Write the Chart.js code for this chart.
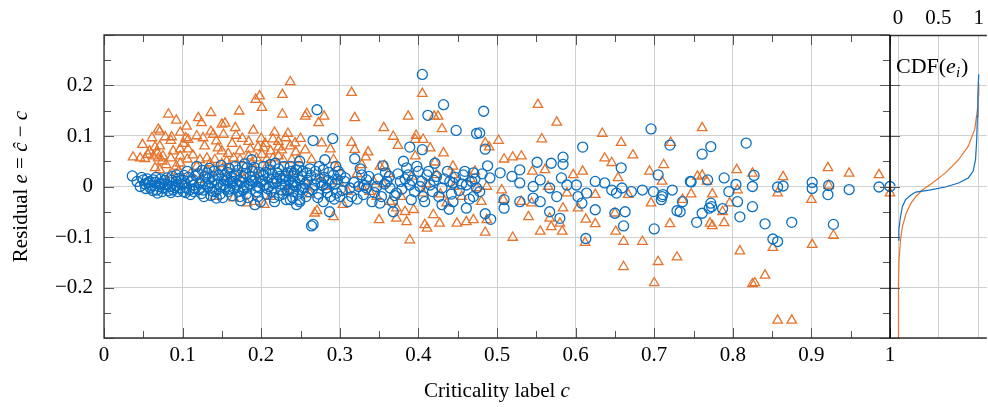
<!DOCTYPE html>
<html><head><meta charset="utf-8">
<script src="https://cdn.jsdelivr.net/npm/chart.js@4.4.1/dist/chart.umd.min.js"></script>
<style>
html,body{margin:0;padding:0;background:#fff;}
#wrap{position:relative;width:988px;height:407px;overflow:hidden;}
canvas{position:absolute;left:0;top:0;}
</style></head><body>
<div id="wrap"><canvas id="main" width="988" height="407"></canvas><canvas id="cdf" width="988" height="407"></canvas></div>
<script>
// ---- data: [criticality label c, residual e] ----
const circlePoints = [
[0.761,0.064],[0.772,0.079],[0.817,0.086],[0.747,0.009],[0.768,0.013],[0.789,0.017],[0.804,0.004],[0.795,-0.010],[0.806,-0.030],[0.825,0.000],[0.827,0.022],[0.825,-0.040],[0.809,-0.060],[0.736,-0.030],[0.733,-0.050],[0.761,-0.053],[0.772,-0.033],[0.773,-0.040],[0.770,-0.043],[0.787,-0.044],[0.754,-0.071],[0.841,-0.074],[0.875,-0.071],[0.851,-0.104],[0.857,-0.109],[0.857,-0.001],[0.864,0.001],[0.901,0.008],[0.901,-0.004],[0.922,0.002],[0.921,-0.016],[0.948,-0.006],[0.928,-0.075],[0.986,-0.001],[1.0,0.0],
[0.700,-0.084],[0.661,-0.078],[0.663,-0.050],[0.729,-0.048],[0.709,-0.026],
[0.483,0.149],[0.478,0.106],[0.485,0.074],[0.609,0.078],[0.696,0.114],[0.720,0.082],[0.551,0.048],[0.569,0.046],[0.584,0.058],[0.584,0.044],[0.658,0.037],[0.705,0.023],[0.488,0.041],[0.491,0.017],[0.504,0.027],[0.519,0.020],[0.529,0.033],[0.529,0.007],[0.546,0.000],[0.555,0.013],[0.567,-0.003],[0.582,0.017],[0.589,0.003],[0.601,0.003],[0.614,-0.013],[0.625,0.010],[0.637,0.007],[0.646,-0.007],[0.652,-0.013],[0.659,-0.003],[0.671,-0.010],[0.685,-0.007],[0.699,-0.010],[0.710,-0.020],[0.723,-0.007],[0.746,0.010],[0.625,-0.046],[0.650,-0.053],[0.613,-0.103],[0.580,-0.063],[0.567,-0.050],[0.509,-0.043],[0.485,-0.054],[0.492,-0.065],[0.509,-0.026],[0.529,-0.030],[0.546,-0.023],[0.555,-0.030],[0.576,-0.020],[0.603,-0.020],[0.608,-0.033],[0.711,-0.016],
[0.405,0.222],[0.432,0.162],[0.271,0.152],[0.412,0.141],[0.448,0.111],[0.474,0.105],[0.266,0.091],[0.291,0.095],[0.389,0.078],[0.405,0.073],[0.319,0.055],[0.249,0.050],[0.281,0.053],[0.355,0.041],[0.381,0.050],[0.421,0.046],[0.237,0.040],[0.241,0.020],[0.258,0.027],[0.279,0.033],[0.292,0.023],[0.307,0.017],[0.328,0.023],[0.334,0.013],[0.358,0.027],[0.360,0.010],[0.377,0.010],[0.387,0.023],[0.385,0.037],[0.400,0.030],[0.411,0.023],[0.423,0.020],[0.440,0.010],[0.457,0.023],[0.470,0.027],[0.241,0.003],[0.254,-0.003],[0.268,0.003],[0.283,-0.003],[0.296,-0.013],[0.313,-0.003],[0.324,0.000],[0.334,-0.003],[0.347,0.000],[0.364,-0.003],[0.372,-0.013],[0.389,0.003],[0.402,0.000],[0.415,0.003],[0.430,-0.003],[0.444,0.007],[0.461,0.003],[0.474,-0.003],[0.237,-0.026],[0.249,-0.030],[0.279,-0.030],[0.300,-0.020],[0.315,-0.020],[0.330,-0.016],[0.341,-0.030],[0.351,-0.033],[0.370,-0.018],[0.391,-0.026],[0.406,-0.020],[0.430,-0.036],[0.444,-0.030],[0.470,-0.020],[0.287,-0.050],[0.368,-0.050],[0.439,-0.045],[0.461,-0.043],[0.266,-0.075],[0.264,-0.078],
[0.036,0.021],[0.046,0.000],[0.050,0.013],[0.056,0.007],[0.063,0.013],[0.067,-0.007],[0.068,-0.013],[0.073,0.007],[0.080,0.017],[0.084,0.000],[0.092,0.010],[0.097,-0.003],[0.103,0.007],[0.109,-0.007],[0.092,0.023],[0.118,0.040],[0.122,0.007],[0.128,0.020],[0.135,-0.003],[0.141,0.013],[0.143,-0.023],[0.150,0.033],[0.152,0.003],[0.158,-0.010],[0.162,0.020],[0.167,0.040],[0.169,0.003],[0.173,-0.020],[0.177,0.020],[0.182,0.037],[0.188,0.053],[0.190,0.010],[0.194,-0.010],[0.192,-0.036],[0.203,0.023],[0.205,0.003],[0.211,0.033],[0.218,0.046],[0.220,0.010],[0.226,-0.007],[0.232,-0.026],[0.234,0.027],[0.245,0.033],[0.245,-0.036],[0.105,-0.003],[0.114,0.003],[0.126,-0.007],[0.139,-0.010],[0.148,0.000],[0.156,0.013],[0.165,-0.003],[0.182,0.000],[0.198,-0.003],[0.213,-0.010],[0.224,0.020],[0.239,0.007],[0.241,-0.010],[0.249,0.013],[0.052,0.005],[0.059,-0.003],[0.075,-0.003],[0.088,-0.007],[0.101,-0.010],[0.114,-0.010],[0.131,0.027],[0.137,0.007],[0.154,0.023],[0.177,-0.007],[0.186,0.020],[0.209,0.017],[0.230,0.003],[0.249,-0.026],
[0.055,0.015],[0.060,0.002],[0.065,0.008],[0.070,0.000],[0.072,0.015],[0.078,0.004],[0.082,-0.008],[0.086,0.012],[0.090,-0.002],[0.095,0.016],[0.099,0.004],[0.104,-0.012],[0.107,0.018],[0.111,0.010],[0.116,-0.004],[0.120,0.025],[0.124,-0.014],[0.129,0.005],[0.133,0.015],[0.136,-0.018],[0.140,0.030],[0.145,0.005],[0.148,-0.015],[0.153,0.012],[0.157,0.028],[0.160,-0.005],[0.164,0.010],[0.168,0.025],[0.171,-0.010],[0.175,0.008],[0.179,0.045],[0.181,-0.015],[0.185,0.005],[0.189,0.030],[0.193,0.015],[0.196,-0.020],[0.200,0.010],[0.203,0.040],[0.207,-0.015],[0.210,0.000],[0.214,0.025],[0.216,-0.022],[0.219,0.015],[0.222,0.035],[0.225,0.005],[0.228,-0.015],[0.231,0.020],[0.236,-0.005],[0.238,0.030],[0.243,0.010],[0.247,-0.015],[0.252,0.020],[0.256,0.005],[0.260,-0.010],[0.262,0.035],[0.270,0.015],[0.273,-0.015],[0.276,0.008],[0.285,0.012],[0.288,-0.020],[0.294,0.005],[0.298,0.030],[0.303,-0.008],[0.306,0.010],[0.310,-0.030],[0.318,0.008],[0.322,-0.025],[0.326,0.035],[0.331,0.002],[0.337,0.020],[0.344,-0.012],[0.349,0.015],[0.353,-0.020],[0.357,0.005],[0.363,0.020],[0.367,-0.030],[0.374,0.025],[0.379,-0.005],[0.383,0.015],[0.392,0.012],[0.395,-0.010],[0.398,0.040],[0.404,0.010],[0.408,-0.030],[0.413,0.030],[0.418,-0.010],[0.420,0.012],[0.426,-0.020],[0.433,0.015],[0.437,0.030],[0.442,-0.015],[0.447,0.018],[0.452,-0.008],[0.455,0.005],[0.459,0.030],[0.465,-0.025],[0.468,0.010],[0.472,0.015],[0.478,-0.010],[0.481,0.025],
[0.042,0.010],[0.048,0.018],[0.053,-0.004],[0.058,0.010],[0.062,-0.008],[0.066,0.018],[0.071,0.005],[0.074,-0.010],[0.077,0.012],[0.081,0.003],[0.085,-0.012],[0.087,0.020],[0.091,0.002],[0.094,-0.010],[0.098,0.012],[0.102,0.022],
[0.106,0.030],[0.110,-0.016],[0.113,0.014],[0.117,0.022],[0.121,-0.006],[0.125,0.032],[0.127,-0.020],[0.132,0.000],[0.134,0.036],[0.138,0.020],[0.142,-0.008],[0.146,0.022],[0.149,0.042],[0.151,-0.022],[0.155,0.000],[0.159,0.036],[0.161,0.008],[0.163,-0.018],[0.166,0.022],[0.170,0.032],[0.172,0.012],[0.174,-0.028],[0.176,0.040],[0.178,-0.002],[0.180,0.026],[0.183,-0.022],[0.187,0.012],[0.191,0.038],[0.195,0.000],[0.197,0.028],[0.199,-0.030],[0.202,0.012],[0.206,0.028],[0.208,-0.004],[0.212,0.044],[0.215,0.006],[0.217,-0.030],[0.221,0.026],[0.223,-0.018],[0.227,0.016],[0.229,0.040],[0.233,-0.008],[0.235,0.012],[0.240,-0.022],[0.242,0.026],[0.244,0.000],[0.248,0.040],[0.251,-0.006],[0.253,0.030],[0.257,-0.020],[0.259,0.012],[0.263,0.022],[0.265,-0.006],[0.269,0.030],[0.272,-0.022],[0.274,0.040],[0.278,0.002],[0.280,0.018],[0.284,-0.012],[0.286,0.028],[0.290,0.008],[0.293,-0.025],[0.295,0.040],[0.297,0.014],[0.301,0.024]
];
const trianglePoints = [
[0.761,0.116],[0.755,0.020],[0.761,0.022],[0.767,0.010],[0.747,-0.015],[0.736,-0.026],[0.774,-0.015],[0.787,-0.050],[0.796,-0.033],[0.771,-0.073],[0.774,-0.078],[0.789,-0.072],[0.805,0.033],[0.806,-0.007],[0.825,0.026],[0.864,0.019],[0.857,-0.013],[0.921,0.037],[0.922,0.002],[0.948,0.026],[0.986,0.023],[1.0,-0.013],[0.900,-0.026],[0.851,-0.121],[0.809,-0.128],[0.901,-0.115],[0.928,-0.097],[0.841,-0.176],[0.825,-0.193],[0.828,-0.191],[0.857,-0.265],[0.875,-0.265],[0.729,-0.140],
[0.700,-0.191],[0.705,-0.149],[0.685,-0.109],[0.661,-0.109],[0.661,-0.159],[0.720,-0.074],[0.696,-0.033],
[0.552,0.162],[0.576,0.127],[0.502,0.091],[0.490,0.078],[0.557,0.094],[0.634,0.105],[0.658,0.087],[0.721,0.087],[0.673,0.062],[0.509,0.054],[0.520,0.058],[0.531,0.060],[0.637,0.056],[0.646,0.047],[0.712,0.043],[0.694,0.030],[0.609,0.030],[0.597,0.023],[0.545,0.030],[0.561,0.033],[0.654,0.017],[0.710,0.010],[0.487,0.000],[0.506,-0.007],[0.565,0.000],[0.589,-0.013],[0.625,-0.016],[0.667,-0.016],[0.508,-0.026],[0.531,-0.030],[0.544,-0.033],[0.584,-0.043],[0.603,-0.043],[0.487,-0.066],[0.540,-0.060],[0.567,-0.063],[0.580,-0.073],[0.613,-0.065],[0.625,-0.074],[0.650,-0.053],[0.569,-0.080],[0.583,-0.089],[0.555,-0.089],[0.485,-0.091],[0.520,-0.101],[0.612,-0.111],[0.651,-0.089],
[0.237,0.207],[0.315,0.186],[0.405,0.184],[0.256,0.139],[0.258,0.144],[0.273,0.126],[0.280,0.139],[0.319,0.136],[0.387,0.139],[0.420,0.139],[0.425,0.139],[0.356,0.116],[0.430,0.114],[0.368,0.099],[0.397,0.101],[0.243,0.086],[0.256,0.072],[0.277,0.086],[0.288,0.074],[0.315,0.087],[0.319,0.073],[0.336,0.068],[0.333,0.058],[0.374,0.081],[0.396,0.093],[0.406,0.093],[0.415,0.076],[0.432,0.066],[0.239,0.053],[0.264,0.053],[0.292,0.053],[0.296,0.037],[0.328,0.043],[0.351,0.040],[0.357,0.041],[0.396,0.060],[0.421,0.048],[0.444,0.040],[0.423,0.023],[0.444,0.023],[0.472,0.030],[0.485,0.086],[0.304,-0.036],[0.292,-0.060],[0.268,-0.053],[0.271,-0.048],[0.350,-0.066],[0.372,-0.063],[0.385,-0.070],[0.372,-0.043],[0.383,-0.050],[0.394,-0.046],[0.408,-0.076],[0.411,-0.083],[0.419,-0.056],[0.427,-0.073],[0.449,-0.073],[0.461,-0.070],[0.470,-0.066],[0.389,-0.106],[0.364,-0.030],[0.347,-0.020],[0.436,-0.033],[0.328,0.000],[0.343,0.010],[0.406,-0.013],[0.474,-0.003],[0.283,0.000],
[0.227,0.182],[0.198,0.179],[0.193,0.172],[0.201,0.156],[0.227,0.143],[0.172,0.149],[0.136,0.146],[0.082,0.143],[0.092,0.131],[0.120,0.136],[0.124,0.126],[0.069,0.113],[0.071,0.109],[0.105,0.119],[0.150,0.123],[0.154,0.125],[0.167,0.116],[0.190,0.111],[0.217,0.107],[0.049,0.083],[0.061,0.096],[0.078,0.098],[0.086,0.098],[0.097,0.107],[0.104,0.096],[0.107,0.093],[0.126,0.096],[0.136,0.109],[0.139,0.103],[0.152,0.103],[0.168,0.101],[0.184,0.089],[0.200,0.095],[0.215,0.094],[0.222,0.089],[0.231,0.096],[0.065,0.078],[0.071,0.080],[0.085,0.091],[0.097,0.074],[0.107,0.074],[0.145,0.076],[0.150,0.070],[0.173,0.070],[0.186,0.074],[0.196,0.078],[0.203,0.076],[0.222,0.078],[0.237,0.080],[0.037,0.058],[0.046,0.056],[0.052,0.055],[0.056,0.063],[0.063,0.060],[0.068,0.066],[0.069,0.056],[0.075,0.060],[0.085,0.056],[0.097,0.060],[0.106,0.054],[0.097,0.046],[0.092,0.040],[0.079,0.043],[0.065,0.037],[0.122,0.053],[0.131,0.056],[0.135,0.046],[0.141,0.053],[0.156,0.050],[0.165,0.056],[0.173,0.053],[0.184,0.060],[0.194,0.056],[0.201,0.063],[0.207,0.053],[0.215,0.056],[0.222,0.060],[0.228,0.053],[0.247,0.053],
[0.182,-0.033],[0.192,-0.030],[0.204,-0.036],[0.141,-0.020],[0.165,-0.023],[0.103,0.003],[0.122,0.013],[0.156,0.020],[0.173,0.027],[0.215,0.013],[0.232,-0.010],[0.071,0.033],[0.084,0.023],[0.190,0.033],[0.207,0.040],[0.230,0.027],[0.131,0.033],
[0.255,0.010],[0.262,-0.015],[0.275,0.020],[0.298,0.010],[0.310,-0.010],[0.322,0.025],[0.338,-0.010],[0.355,0.005],[0.362,0.025],[0.378,-0.020],[0.392,0.020],[0.410,0.005],[0.428,-0.015],[0.445,0.000],[0.455,-0.020],[0.466,0.015],[0.480,-0.030],
[0.095,0.030],[0.110,0.025],[0.145,0.030],[0.160,0.040],[0.178,0.015],[0.198,0.020],[0.212,-0.020],[0.240,0.030],
[0.058,0.070],[0.074,0.050],[0.088,0.070],[0.101,0.085],[0.113,0.062],[0.118,0.100],[0.128,0.080],[0.143,0.090],[0.158,0.065],[0.163,0.085],[0.176,0.095],[0.188,0.045],[0.205,0.085],[0.212,0.070],[0.226,0.072],[0.234,0.105],[0.244,0.068],[0.250,0.095],[0.118,0.040],[0.150,0.045]
];
// CDF curves: [CDF value, residual]
const cdfCircles = [[0,-0.106],[0.01,-0.086],[0.03,-0.060],[0.053,-0.040],[0.093,-0.026],[0.16,-0.017],[0.22,-0.011],[0.385,-0.007],[0.587,-0.001],[0.75,0.007],[0.87,0.017],[0.93,0.030],[0.96,0.053],[0.975,0.093],[0.983,0.139],[0.99,0.186],[1.0,0.222]];
const cdfTriangles = [[0,-0.30],[0.005,-0.192],[0.012,-0.146],[0.03,-0.106],[0.053,-0.080],[0.10,-0.053],[0.16,-0.033],[0.22,-0.020],[0.30,-0.007],[0.425,0.007],[0.587,0.027],[0.75,0.053],[0.87,0.080],[0.95,0.113],[0.983,0.152],[0.995,0.180],[1.0,0.205]];
const criticalityTicks = [0,0.1,0.2,0.3,0.4,0.5,0.6,0.7,0.8,0.9,1];
const residualTicks = [-0.3,-0.2,-0.1,0,0.1,0.2,0.3];
const cdfTicks = [0,0.5,1];

const BLUE = '#0b6fc2', ORANGE = '#e5732b', GRID = '#cfcfcf';
const FONT = "'Liberation Serif','Times New Roman',serif";
function fmt(v){ const r = Math.round(v*100)/100; if (Math.abs(r) < 1e-9) return '0'; return (r < 0 ? '\u2212' : '') + String(Math.abs(r)); }
const toXY = arr => arr.map(p => ({x:p[0], y:p[1]}));

function drawSegments(ctx, segs, size, cx, y){
  let w = 0;
  segs.forEach(s => { ctx.font = (s[1] ? 'italic ' : '') + size + 'px ' + FONT; w += ctx.measureText(s[0]).width; });
  let x = cx - w/2;
  segs.forEach(s => { ctx.font = (s[1] ? 'italic ' : '') + size + 'px ' + FONT; ctx.fillText(s[0], x, y); x += ctx.measureText(s[0]).width; });
}

const mainDecor = {
  id:'mainDecor',
  afterDraw(chart){
    const ctx = chart.ctx, a = chart.chartArea, xs = chart.scales.x, ys = chart.scales.y;
    ctx.save();
    ctx.strokeStyle = '#555'; ctx.lineWidth = 1;
    ctx.beginPath();
    for (let i = 0; i <= 20; i++){
      const px = Math.round(xs.getPixelForValue(i*0.05)) + 0.5, len = i % 2 === 0 ? 10 : 7;
      ctx.moveTo(px, a.bottom); ctx.lineTo(px, a.bottom - len);
      ctx.moveTo(px, a.top); ctx.lineTo(px, a.top + len);
    }
    for (let i = -6; i <= 6; i++){
      const py = Math.round(ys.getPixelForValue(i*0.05)) + 0.5, len = i % 2 === 0 ? 10 : 7;
      ctx.moveTo(a.left, py); ctx.lineTo(a.left + len, py);
      ctx.moveTo(a.right, py); ctx.lineTo(a.right - len, py);
    }
    ctx.stroke();
    ctx.strokeStyle = '#333'; ctx.lineWidth = 1.3;
    ctx.beginPath();
    ctx.moveTo(a.right, a.top); ctx.lineTo(a.left, a.top); ctx.lineTo(a.left, a.bottom); ctx.lineTo(a.right, a.bottom);
    ctx.stroke();
    ctx.fillStyle = '#000'; ctx.textBaseline = 'alphabetic'; ctx.textAlign = 'left';
    drawSegments(ctx, [['Criticality label ', false], ['c', true]], 21, (a.left + a.right)/2, 397);
    ctx.translate(27, (a.top + a.bottom)/2);
    ctx.rotate(-Math.PI/2);
    drawSegments(ctx, [['Residual ', false], ['e', true], [' = ', false], ['\u0109', true], [' \u2212 ', false], ['c', true]], 21, 0, 0);
    ctx.restore();
  }
};

const cdfDecor = {
  id:'cdfDecor',
  afterDraw(chart){
    const ctx = chart.ctx, a = chart.chartArea, ys = chart.scales.y;
    ctx.save();
    ctx.strokeStyle = '#555'; ctx.lineWidth = 1;
    ctx.beginPath();
    for (let i = -3; i <= 3; i++){
      const py = Math.round(ys.getPixelForValue(i*0.1)) + 0.5;
      ctx.moveTo(a.left, py); ctx.lineTo(a.left + 10, py);
    }
    ctx.stroke();
    ctx.strokeStyle = '#333'; ctx.lineWidth = 1.3;
    ctx.beginPath();
    ctx.moveTo(a.left, a.top + 0.5); ctx.lineTo(a.right, a.top + 0.5);
    ctx.moveTo(a.left, a.bottom); ctx.lineTo(a.right, a.bottom);
    ctx.stroke();
    ctx.strokeStyle = '#000'; ctx.lineWidth = 1.6;
    ctx.beginPath(); ctx.moveTo(a.left, a.top); ctx.lineTo(a.left, a.bottom); ctx.stroke();
    ctx.fillStyle = '#000'; ctx.textBaseline = 'alphabetic'; ctx.textAlign = 'left';
    let x = a.left + 6; const y = 73;
    ctx.font = '22px ' + FONT; ctx.fillText('CDF(', x, y); x += ctx.measureText('CDF(').width;
    ctx.font = 'italic 22px ' + FONT; ctx.fillText('e', x, y); x += ctx.measureText('e').width;
    ctx.font = 'italic 15px ' + FONT; ctx.fillText('i', x, y + 4); x += ctx.measureText('i').width + 1;
    ctx.font = '22px ' + FONT; ctx.fillText(')', x, y);
    ctx.restore();
  }
};

const tickFont = {family: FONT, size: 21};

new Chart(document.getElementById('main'), {
  type: 'scatter',
  data: { datasets: [
    {label:'circles', data: toXY(circlePoints), pointStyle:'circle', pointRadius:5, borderColor:BLUE, backgroundColor:'rgba(0,0,0,0)', borderWidth:1.3, clip:false},
    {label:'triangles', data: toXY(trianglePoints), pointStyle:'triangle', pointRadius:5.5, borderColor:ORANGE, backgroundColor:'rgba(0,0,0,0)', borderWidth:1.3, clip:false}
  ]},
  options: {
    responsive:false, animation:false,
    layout:{padding:{left:0, right:98, top:35, bottom:0}},
    plugins:{legend:{display:false}, tooltip:{enabled:false}},
    scales:{
      x:{type:'linear', min:0, max:1,
        afterBuildTicks: s => { s.ticks = criticalityTicks.map(v => ({value:v})); },
        afterFit: s => { s.height = 69; },
        ticks:{font:tickFont, color:'#000', padding:5, maxRotation:0, autoSkip:false, callback: v => fmt(v)},
        grid:{color:GRID, lineWidth:1, drawTicks:false}, border:{display:false}},
      y:{type:'linear', min:-0.3, max:0.3,
        afterBuildTicks: s => { s.ticks = residualTicks.map(v => ({value:v})); },
        afterFit: s => { s.width = 104; },
        ticks:{font:tickFont, color:'#000', padding:11, autoSkip:false, callback: v => Math.abs(v) > 0.25 ? '' : fmt(v)},
        grid:{color:GRID, lineWidth:1, drawTicks:false}, border:{display:false}}
    }
  },
  plugins:[mainDecor]
});

new Chart(document.getElementById('cdf'), {
  type: 'line',
  data: { datasets: [
    {label:'CDF circles', data: toXY(cdfCircles), borderColor:BLUE, borderWidth:1.2, pointRadius:0, fill:false, tension:0},
    {label:'CDF triangles', data: toXY(cdfTriangles), borderColor:ORANGE, borderWidth:1.2, pointRadius:0, fill:false, tension:0}
  ]},
  options: {
    responsive:false, animation:false,
    layout:{padding:{left:890, right:0, top:0, bottom:69}},
    plugins:{legend:{display:false}, tooltip:{enabled:false}},
    scales:{
      x:{type:'linear', position:'top', min:-0.1, max:1.1,
        afterBuildTicks: s => { s.ticks = cdfTicks.map(v => ({value:v})); },
        afterFit: s => { s.height = 35; },
        ticks:{font:tickFont, color:'#000', padding:4, maxRotation:0, autoSkip:false, callback: v => fmt(v)},
        grid:{color:GRID, lineWidth:1, drawTicks:false}, border:{display:false}},
      y:{type:'linear', min:-0.3, max:0.3,
        afterBuildTicks: s => { s.ticks = residualTicks.map(v => ({value:v})); },
        afterFit: s => { s.width = 0; },
        ticks:{display:false},
        grid:{color:GRID, lineWidth:1, drawTicks:false}, border:{display:false}}
    }
  },
  plugins:[cdfDecor]
});
</script>
</body></html>
